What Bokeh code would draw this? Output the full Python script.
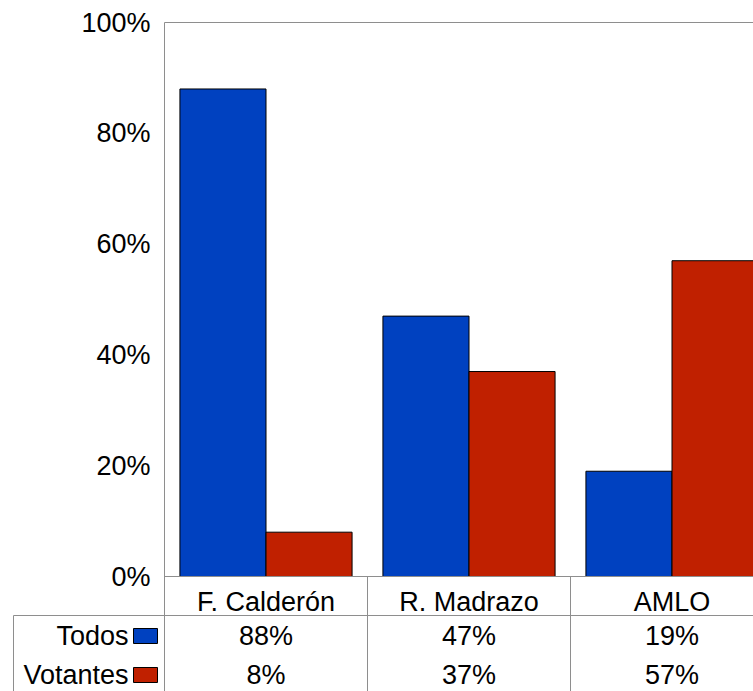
from bokeh.plotting import figure
from bokeh.models import Range1d
from bokeh.core.properties import value
from bokeh.embed import file_html
from bokeh.resources import INLINE

# ---- data ----
categories = ["F. Calderón", "R. Madrazo", "AMLO"]
series_names = ["Todos", "Votantes"]
todos = [88, 47, 19]
votantes = [8, 37, 57]
y_ticks = [0, 20, 40, 60, 80, 100]
y_tick_labels = ["0%", "20%", "40%", "60%", "80%", "100%"]

BLUE = "#0041C0"
RED = "#C02000"
GRID = "#8e8e8e"
FONT = "Liberation Sans"
FS = "27px"

W, H = 753, 691
X0 = 164          # pixel of category axis start
Y0 = 576          # pixel of 0%
UX = 203.0        # px per category
UY = 5.54         # px per percent


def px(x):
    return (x - X0) / UX


def py(y):
    return (Y0 - y) / UY


n = len(categories)
idx = list(range(n))
bar_w = 0.424
xend = px(W)

p = figure(width=W, height=H, x_range=Range1d(px(0), xend), y_range=Range1d(py(H), py(0)),
           output_backend="svg", toolbar_location=None,
           x_axis_location=None, y_axis_location=None,
           min_border_left=0, min_border_right=0, min_border_top=0, min_border_bottom=0)
p.grid.visible = False
p.outline_line_color = None
p.background_fill_color = "white"

# bars
p.vbar(x=[i + 0.5 - bar_w / 2 for i in idx], top=todos, bottom=0, width=bar_w,
       fill_color=BLUE, line_color="black", line_width=1)
p.vbar(x=[i + 0.5 + bar_w / 2 for i in idx], top=votantes, bottom=0, width=bar_w,
       fill_color=RED, line_color="black", line_width=1)

# plot-area frame (top, left, bottom)
p.segment(x0=[0, 0, 0], y0=[100, 100, 0], x1=[xend, 0, xend], y1=[100, py(H), 0],
          line_color=GRID, line_width=1)

# y tick labels
p.text(x=[px(150)] * len(y_ticks), y=y_ticks, text=y_tick_labels,
       text_font=value(FONT), text_font_size=FS, text_align="right",
       text_baseline="middle", text_color="black")

# ---- data table ----
row_top = py(615)
left_x = px(13)
p.segment(x0=[1, 2], y0=[0, 0], x1=[1, 2], y1=[py(H), py(H)], line_color=GRID, line_width=1)
p.segment(x0=[left_x, left_x], y0=[row_top, row_top], x1=[left_x, xend], y1=[py(H), row_top],
          line_color=GRID, line_width=1)

# category labels
p.text(x=[i + 0.5 for i in idx], y=[py(601)] * n, text=categories,
       text_font=value(FONT), text_font_size=FS, text_align="center",
       text_baseline="middle", text_color="black")

row_y = [py(635.5), py(674.5)]
# series names
p.text(x=[px(128)] * 2, y=row_y, text=series_names,
       text_font=value(FONT), text_font_size=FS, text_align="right",
       text_baseline="middle", text_color="black")
# legend keys
kh = 7.5 / UY
p.quad(left=[px(133)] * 2, right=[px(157)] * 2,
       top=[row_y[0] + kh, row_y[1] + kh], bottom=[row_y[0] - kh, row_y[1] - kh],
       fill_color=[BLUE, RED], line_color="black", line_width=1)

# values
for r, vals in enumerate([todos, votantes]):
    p.text(x=[i + 0.5 for i in idx], y=[row_y[r]] * n, text=[f"{v}%" for v in vals],
           text_font=value(FONT), text_font_size=FS, text_align="center",
           text_baseline="middle", text_color="black")

open("out.html", "w").write(file_html(p, INLINE))
